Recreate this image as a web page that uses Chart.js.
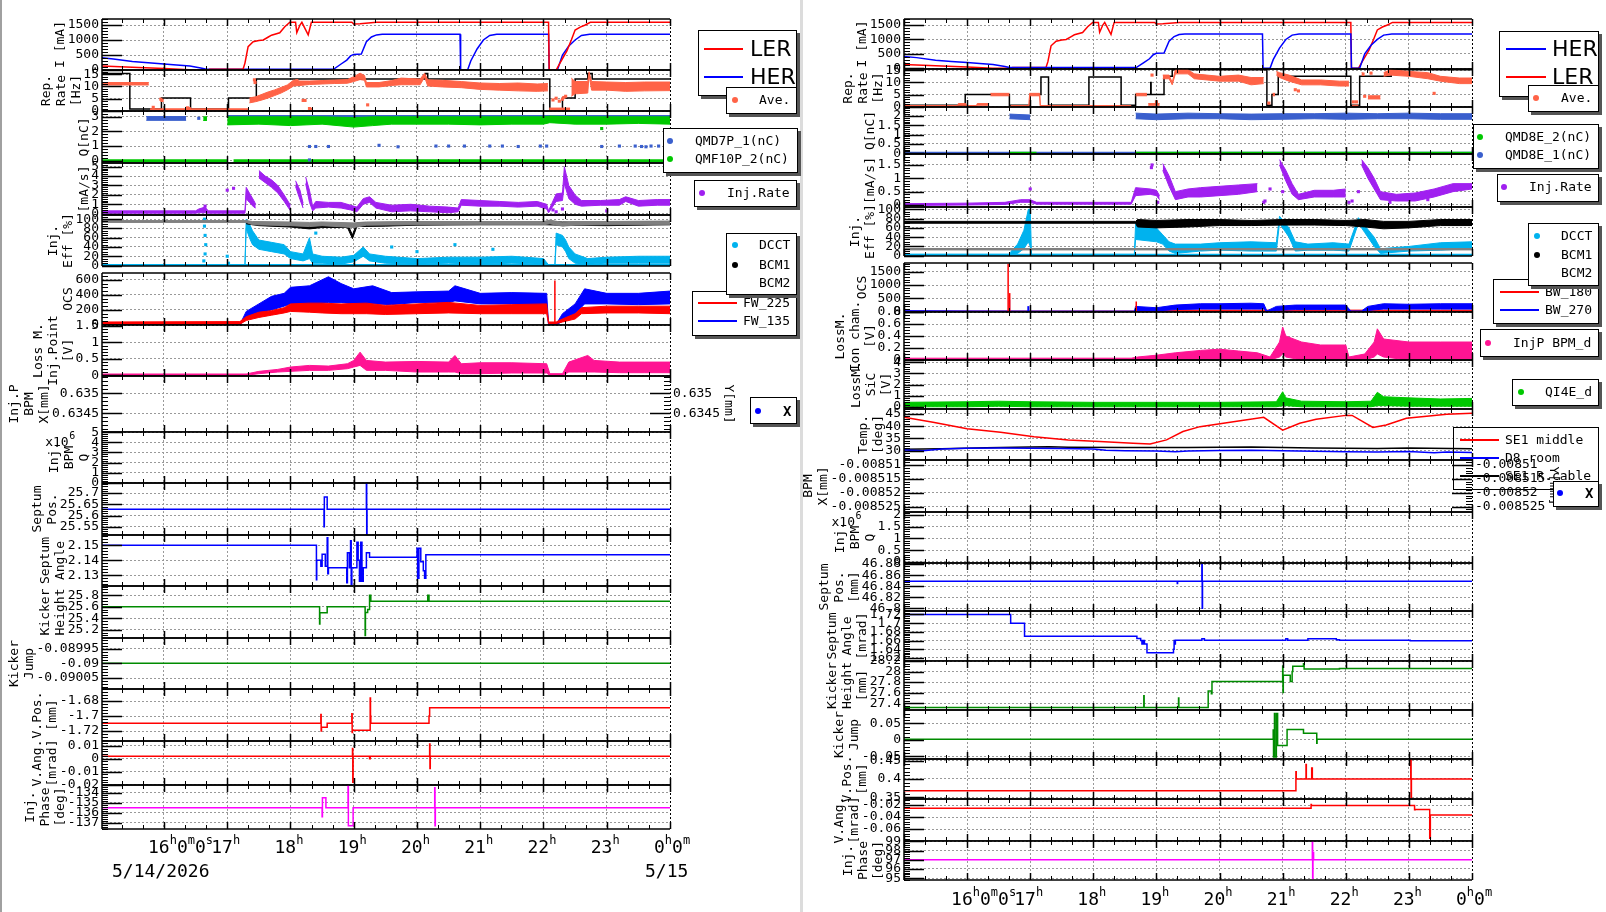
<!DOCTYPE html>
<html><head><meta charset="utf-8"><title>Injection monitor</title>
<script src="https://cdn.jsdelivr.net/npm/chart.js@4.4.1/dist/chart.umd.min.js"></script>
<style>
html,body{margin:0;padding:0;background:#fff;}
body{width:1606px;height:912px;position:relative;overflow:hidden;}
canvas{position:absolute;}
.lg{position:absolute;box-sizing:border-box;background:#fff;border:1.5px solid #000;box-shadow:3px 3px 0 #555;z-index:5;}
.lm,.ld,.lt{position:absolute;z-index:5;}
.lt{font:13px "DejaVu Sans Mono",monospace;color:#000;white-space:pre;line-height:16px;}
.sep{position:absolute;top:0;height:912px;z-index:4;}
</style></head><body>
<script>
// ---------- axis / tick text ----------
const HOURS=[16,17,18,19,20,21,22,23,24];
const XTICK_PARTS={16:[['16','h'],['0','m'],['0','s']],17:[['17','h']],18:[['18','h']],19:[['19','h']],20:[['20','h']],21:[['21','h']],22:[['22','h']],23:[['23','h']],24:[['0','h'],['0','m']]};
const DATE_LABELS=['5/14/2026','5/15'];

// ---------- colours ----------
const RED='#ff0000',BLUE='#0000ff',ORANGE='#ff6347',QGREEN='#00c800',QBLUE='#3a5fcd',PURPLE='#a020f0',
CYAN='#00b2ee',GRAY='#808080',BLACK='#000000',PINK='#ff1493',KGREEN='#008b00',MAG='#ff00ff',GRID='#999999';

// ---------- beam currents (hours, mA) ----------
const curLER=[[15.0,135],[15.5,92],[16.0,48],[16.4,5],[16.45,0],[16.7,0],[16.72,28],[17.25,28],[17.28,230],[17.33,780],[17.41,940],[17.5,980],[17.57,1000],[17.65,1100],[17.7,1160],[17.83,1240],[17.91,1440],[17.99,1590],[18.08,1590],[18.1,1250],[18.15,1500],[18.18,1590],[18.23,1380],[18.28,1170],[18.33,1590],[18.97,1590],[19.0,1535],[19.1,1545],[19.36,1590],[22.08,1590],[22.09,0],[22.2,0],[22.26,230],[22.37,640],[22.44,1000],[22.5,1330],[22.58,1430],[22.66,1500],[22.74,1590],[24.0,1590]];
const curHER=[[15.0,410],[15.2,370],[15.5,280],[15.75,240],[16.0,200],[16.2,170],[16.41,135],[16.6,60],[16.67,25],[18.68,25],[18.8,200],[18.89,330],[18.95,470],[19.0,520],[19.12,530],[19.2,940],[19.28,1100],[19.36,1170],[19.45,1190],[20.68,1190],[20.69,0],[20.8,0],[20.85,300],[20.95,700],[21.05,1000],[21.15,1150],[21.26,1190],[22.08,1190],[22.09,0],[22.22,0],[22.3,500],[22.4,800],[22.5,1000],[22.6,1150],[22.73,1190],[24.0,1190]];

// ---------- left column ----------
const repTargetL=[[15.0,15.3],[15.46,0.8],[15.96,5.3],[16.42,0.8],[17.02,5.3],[17.46,13],[20.13,15.3],[20.17,13],[22.1,0.8],[22.3,5.3],[22.5,13],[22.7,15.3],[22.77,13],[24,13]];
const aveL=[[15.0,10.6,11.6],[15.76,10.6,11.6],[15.77,null,null],[15.78,0.1,0.9],[17.33,0.1,0.9],[17.34,null,null],[17.35,3.3,5.3],[17.45,3.8,5.8],[17.55,4.5,6.8],[17.65,5.3,7.8],[17.75,6.3,8.6],[17.85,7.3,9.6],[17.95,8.6,10.6],[18.05,10.2,12.6],[18.15,10.4,12.2],[18.3,10.8,12.2],[18.5,11.0,12.4],[18.7,11.2,12.6],[18.9,11.3,12.8],[19.0,12.0,14.0],[19.1,12.8,15.4],[19.17,12.5,14.5],[19.2,9.8,11.6],[19.4,9.8,11.6],[19.6,10.4,12.4],[19.75,10.7,13.4],[20.05,10.7,13.0],[20.12,13.8,15.4],[20.17,10.2,12.7],[20.4,9.8,12.5],[20.7,9.5,12.0],[21.0,8.8,11.4],[21.3,8.5,11.2],[21.6,8.2,11.4],[21.9,8.0,11.0],[22.07,8.2,11.2],[22.08,null,null],[22.09,0.1,1.2],[22.42,0.1,1.2],[22.43,null,null],[22.44,6.0,13.4],[22.5,7.0,12.0],[22.7,7.3,12.0],[22.72,14.8,16.0],[22.76,8.5,12.0],[23.0,8.5,11.8],[23.3,8.0,11.6],[23.6,8.2,11.8],[24.0,8.3,11.8]];
const aveLpts=[[15.83,1.5],[15.95,4.8],[15.97,4.3],[16.37,1.3],[16.4,1.0],[17.43,12.7],[17.44,11.6],[18.1,12.4],[18.2,4.3],[18.23,4.3],[18.3,1.0],[18.32,0.7],[19.22,2.5],[22.15,4.5],[22.2,5.2],[22.25,4.0],[22.3,4.8],[22.35,6.0],[22.32,5.5]];
const qL1band=[[15.72,2.76,3.02],[16.35,2.76,3.02]];
const qL1top=[[17.0,3.03],[24,3.03]];
const qL2band=[[16.62,2.75,3.0],[16.68,2.75,3.0],[16.69,null,null],[17.0,2.45,3.0],[17.5,2.5,3.0],[18.0,2.4,3.0],[18.5,2.5,3.0],[19.0,2.3,2.95],[19.3,2.4,3.0],[19.6,2.5,3.0],[20.0,2.5,3.0],[20.5,2.5,3.0],[21.0,2.45,3.0],[21.5,2.5,3.0],[22.0,2.5,3.0],[22.1,2.6,3.05],[22.5,2.5,3.0],[23.0,2.5,3.0],[23.5,2.55,3.0],[24.0,2.5,3.0]];
const qL2zero=[[15.0,0],[17.0,0],[17.02,null],[17.1,0],[24,0]];
const qL1pts=[[16.55,2.9],[18.3,0.97],[18.4,0.97],[18.6,0.97],[18.3,0.05],[19.4,1.05],[19.7,0.95],[20.3,1.0],[20.5,1.0],[20.75,1.0],[21.15,1.0],[21.35,1.0],[21.6,0.97],[21.95,1.0],[22.05,1.0],[22.92,0.97],[23.2,1.0],[23.45,1.0],[23.55,0.97],[23.62,0.95],[23.7,1.0],[23.82,1.0]];
const qL2pts=[[22.92,2.2]];
const irL=[[15.0,0.05,0.3],[16.5,0.05,0.3],[16.55,0.1,0.5],[16.65,0.1,0.7],[16.7,0.05,0.3],[17.28,0.05,0.3],[17.3,1.6,2.8],[17.35,1.2,2.2],[17.42,0.7,1.4],[17.45,0.6,1.0],[17.48,null,null],[17.5,3.8,4.6],[17.6,3.3,4.0],[17.7,2.8,3.6],[17.8,2.2,3.0],[17.9,1.3,2.0],[18.0,0.3,0.9],[18.05,null,null],[18.08,2.9,3.5],[18.15,1.5,2.5],[18.2,0.6,1.1],[18.22,null,null],[18.24,3.2,3.9],[18.3,1.2,2.5],[18.35,0.3,0.8],[18.4,0.6,1.3],[18.6,0.7,1.2],[18.8,0.6,1.2],[18.95,0.4,0.9],[19.05,0.2,0.7],[19.15,1.0,1.6],[19.25,1.2,1.8],[19.35,0.6,1.2],[19.6,0.2,0.9],[19.9,0.3,1.0],[20.2,0.2,0.8],[20.5,0.1,0.7],[20.65,0.2,0.6],[20.7,0.9,1.5],[21.0,0.8,1.4],[21.3,0.8,1.3],[21.6,0.7,1.2],[21.9,0.8,1.3],[22.05,0.5,1.0],[22.08,0.1,0.3],[22.2,1.3,2.1],[22.3,1.4,2.2],[22.33,3.2,5.0],[22.4,1.6,3.0],[22.5,1.0,2.0],[22.6,0.8,1.4],[22.9,0.9,1.4],[23.2,0.9,1.5],[23.3,1.3,1.8],[23.5,0.8,1.4],[23.8,0.9,1.5],[24.0,0.9,1.5]];
const irLpts=[[17.0,2.5],[17.1,2.7],[16.65,0.8],[22.2,0.2],[22.15,0.4],[23.0,0.3],[22.3,0.5]];
const dcctL=[[15.0,-1,1.5],[17.28,-1,1.5],[17.3,80,100],[17.35,60,90],[17.4,45,75],[17.5,35,55],[17.7,30,50],[17.9,25,45],[18.0,15,30],[18.2,10,25],[18.3,15,60],[18.35,5,25],[18.5,5,20],[18.8,3,18],[19.0,8,22],[19.15,20,40],[19.25,10,25],[19.5,5,20],[20,3,15],[20.5,5,18],[21,3,18],[21.5,5,20],[22.0,3,15],[22.08,-1,1.5],[22.18,-1,1.5],[22.2,45,70],[22.3,40,65],[22.35,30,55],[22.4,15,40],[22.5,5,25],[22.7,3,15],[23,5,18],[23.5,5,20],[24,5,20]];
const dcctLzero=[[15.0,0.3],[24,0.3]];
const dcctLpts=[[16.64,100],[16.64,85],[16.65,65],[16.66,45],[16.65,25],[16.63,10],[17.0,20],[17.02,5],[18.4,70],[19.6,40],[20.0,30],[20.6,45],[21.2,35]];
const bcm1L=[[17.3,90,94],[17.5,86,92],[18.0,83,91],[18.3,79,88],[18.5,82,90],[18.9,82,90],[18.98,58,66],[19.05,84,92],[19.5,85,93],[20,87,94],[21,88,95],[22,88,95],[22.3,87,94],[23,86,93],[24,88,95]];
const bcm2L=[[15.0,93,97],[17.3,93,97],[17.4,88,95],[18.0,86,94],[18.3,84,93],[18.5,86,94],[19.0,82,92],[19.2,87,94],[20,88,95],[21,88,95],[22,88,95],[22.1,90,98],[22.3,85,93],[22.5,87,95],[23,88,95],[24,88,96]];
const fw225L=[[15.0,10,40],[17.2,10,45],[17.3,60,110],[17.5,100,170],[17.7,130,190],[17.9,160,230],[18.0,180,280],[18.3,170,290],[18.5,160,290],[18.8,150,280],[19.2,150,290],[19.5,140,260],[20,150,280],[20.5,160,300],[21,150,260],[21.5,150,270],[22.05,150,280],[22.08,20,40],[22.2,20,40],[22.3,40,80],[22.5,80,150],[22.6,150,230],[23,160,250],[23.5,160,250],[24,150,250]];
const fw225Lspike=[[22.18,20],[22.18,590]];
const fw135L=[[15.0,0,5],[17.2,0,5],[17.3,100,180],[17.5,150,280],[17.7,200,380],[17.9,250,420],[18.0,280,500],[18.3,260,520],[18.6,300,640],[18.8,300,550],[19.0,280,480],[19.3,280,520],[19.6,270,430],[20,300,440],[20.5,300,450],[20.6,320,520],[21,280,420],[21.5,280,430],[22.05,260,420],[22.08,0,10],[22.2,0,10],[22.3,50,150],[22.5,150,280],[22.65,280,480],[23,280,420],[23.5,270,420],[24,280,450]];
const lossL=[[15.0,0,0.04],[17.3,0,0.04],[17.5,0.05,0.12],[17.8,0.1,0.18],[18.0,0.12,0.25],[18.3,0.15,0.3],[18.6,0.15,0.28],[18.9,0.2,0.35],[19.0,0.25,0.45],[19.1,0.3,0.7],[19.2,0.15,0.45],[19.5,0.15,0.4],[20,0.1,0.42],[20.5,0.1,0.4],[20.6,0.1,0.6],[20.7,0.05,0.35],[21,0.05,0.38],[21.5,0.07,0.38],[22.05,0.07,0.35],[22.1,0,0.05],[22.3,0,0.05],[22.4,0.1,0.4],[22.7,0.1,0.6],[22.8,0.1,0.45],[23.2,0.08,0.4],[23.6,0.08,0.4],[24,0.08,0.4]];
const septPosL=[[15.0,25.628],[18.53,25.55],[18.535,25.682],[18.58,25.628],[19.2,25.745],[19.205,25.515],[19.21,25.628],[24,25.628]];
const septAngL=[[15.0,2.15],[18.41,2.127],[18.415,2.14],[18.48,2.136],[18.5,2.144],[18.55,2.136],[18.58,2.155],[18.59,2.131],[18.6,2.135],[18.89,2.125],[18.9,2.145],[18.93,2.135],[18.95,2.153],[18.96,2.124],[18.97,2.135],[19.05,2.152],[19.07,2.14],[19.09,2.126],[19.11,2.152],[19.13,2.126],[19.15,2.135],[19.2,2.145],[19.25,2.142],[20.0,2.148],[20.01,2.128],[20.03,2.148],[20.06,2.139],[20.1,2.133],[20.12,2.128],[20.14,2.1437],[24,2.1437]];
const kickHL=[[15.0,25.6],[18.46,25.3],[18.465,25.495],[18.58,25.6],[19.18,25.1],[19.185,25.5],[19.22,25.55],[19.25,25.8],[19.27,25.695],[20.17,25.8],[20.19,25.695],[24,25.695]];
const kickJL=[[15.0,-0.09],[24,-0.09]];
const vPosL=[[15.0,-1.7098],[18.48,-1.698],[18.485,-1.72],[18.49,-1.715],[18.58,-1.7098],[18.97,-1.697],[18.975,-1.722],[18.98,-1.719],[19.26,-1.676],[19.265,-1.7],[19.27,-1.7098],[20.19,-1.7],[20.2,-1.689],[24,-1.689]];
const vAngL=[[15.0,0.002],[18.98,0.008],[18.985,-0.018],[18.99,0.002],[19.25,0.0],[19.26,0.002],[20.2,0.0115],[20.205,-0.0075],[20.21,0.002],[24,0.002]];
const phaseL=[[15.0,-135.5],[18.5,-136.4],[18.505,-134.5],[18.56,-135.5],[18.91,-133.3],[18.915,-137.3],[18.99,-135.5],[20.28,-133.5],[20.285,-137.3],[20.29,-135.5],[24,-135.5]];

// ---------- right column ----------
const repTargetR=[[15.0,0.65],[15.97,5],[16.67,0.65],[17.0,5],[17.17,12.2],[17.29,0.65],[17.93,12.2],[18.44,0.65],[18.67,5],[18.91,10],[18.915,5],[19.12,12.5],[19.25,15.2],[20.75,0.65],[20.83,5],[20.93,12.5],[22.08,0.65],[22.22,12.5],[22.72,15.2],[24,15.2]];
const aveR=[[15.0,-0.1,0.5],[15.85,-0.1,0.5],[15.86,0.6,1.3],[15.98,0.6,1.3],[15.99,-0.1,0.5],[16.15,-0.1,0.5],[16.16,0.6,1.3],[16.35,0.6,1.3],[16.36,null,null],[16.37,4.5,5.5],[16.67,4.5,5.5],[16.68,null,null],[16.69,-0.1,0.5],[16.98,-0.1,0.5],[16.99,4.5,5.5],[17.15,4.5,5.5],[17.16,-0.1,0.5],[18.6,-0.1,0.5],[18.61,null,null],[18.67,4.5,5.5],[18.85,4.5,5.5],[18.86,null,null],[18.87,0.6,1.3],[19.05,0.6,1.3],[19.06,null,null],[19.1,11.5,13],[19.2,11.5,13],[19.25,9,10],[19.3,13.5,15.2],[19.5,13.5,15.2],[19.6,11.5,13.5],[19.8,11,13],[20.0,10.5,12.5],[20.3,10.5,13],[20.5,9,12],[20.7,9.5,12],[20.74,null,null],[20.84,4.5,5.5],[20.88,4.5,5.5],[20.89,null,null],[20.9,13,14.5],[20.95,12,14],[21.1,10.5,13],[21.3,9,11],[21.6,9,11],[21.9,8.5,10.5],[22.05,8.5,10.5],[22.06,null,null],[22.1,-0.1,0.6],[22.2,-0.1,0.6],[22.21,null,null],[22.25,13,14],[22.3,12.8,13.8],[22.31,null,null],[22.35,3.2,4.5],[22.55,3.2,4.5],[22.56,null,null],[22.6,12.5,14],[22.7,13,15.2],[23.0,12.5,14.5],[23.3,11.5,14.0],[23.5,10.5,12.5],[23.8,9.5,11.8],[24,9.5,11.8]];
const aveRpts=[[18.93,13],[19.0,2],[20.78,1.5],[21.2,7],[21.25,6.5],[22.12,2],[22.17,2],[22.4,13.8],[23.4,5.5],[22.3,4.3]];
const qR1zero=[[15.0,0],[24,0]];
const qR2zero=[[16.67,0],[17.1,0],[17.11,null],[18.67,0],[24,0]];
const qR1band=[[16.67,1.85,2.1],[17.0,1.8,2.05],[17.02,null,null],[18.67,1.85,2.15],[19.0,1.8,2.1],[19.5,1.85,2.15],[20,1.85,2.12],[20.5,1.8,2.1],[21,1.82,2.12],[21.5,1.85,2.12],[22,1.82,2.15],[22.5,1.85,2.12],[23,1.85,2.15],[23.5,1.82,2.12],[24,1.82,2.12]];
const irR=[[15,-0.02,0.05],[16.0,0.0,0.07],[16.6,0.02,0.1],[16.85,0.1,0.2],[17.0,0.1,0.2],[17.1,0.03,0.1],[18.6,0.03,0.1],[18.67,0.35,0.65],[18.9,0.4,0.6],[19.0,0.35,0.55],[19.05,0.2,0.35],[19.08,null,null],[19.1,1.3,1.55],[19.2,0.7,1.1],[19.3,0.2,0.5],[19.5,0.3,0.6],[19.7,0.3,0.65],[20.0,0.35,0.7],[20.3,0.4,0.75],[20.6,0.5,0.8],[20.62,null,null],[20.95,1.5,1.7],[21.05,0.9,1.3],[21.15,0.4,0.8],[21.25,0.2,0.4],[21.5,0.3,0.55],[21.8,0.3,0.55],[22.0,0.3,0.6],[22.02,null,null],[22.25,1.5,1.7],[22.35,1.0,1.4],[22.45,0.6,1.0],[22.55,0.2,0.5],[22.8,0.15,0.4],[23.1,0.15,0.45],[23.4,0.3,0.6],[23.7,0.5,0.8],[24,0.6,0.8]];
const irRpts=[[17.0,0.6],[18.93,1.5],[18.92,1.4],[19.02,0.1],[20.7,0.1],[20.72,0.15],[20.8,0.6],[21.0,0.5],[22.05,0.1],[22.1,0.15],[22.2,0.5],[22.7,0.1],[23.3,0.2]];
const dcctR=[[15,-0.6,3],[16.68,-0.6,3],[16.7,2,10],[16.8,5,25],[16.9,15,55],[16.97,30,100],[17.0,20,100],[17.02,-0.6,3],[18.65,-0.6,3],[18.67,35,70],[19.0,30,60],[19.1,25,45],[19.2,10,30],[19.3,5,25],[19.7,10,25],[20.0,12,28],[20.5,10,30],[20.9,10,28],[20.95,70,85],[21.1,40,60],[21.2,10,30],[21.4,12,25],[21.8,12,28],[22.05,10,25],[22.2,70,82],[22.3,50,65],[22.45,20,40],[22.55,5,15],[23.0,10,20],[23.5,12,28],[24,15,30]];
const dcctRzero=[[15,1],[24,1]];
const bcm1R=[[15,70,74],[18.67,70,74],[18.7,62,78],[19,60,76],[19.5,62,78],[20,65,78],[20.5,65,76],[21,66,78],[21.5,66,78],[22,65,76],[22.3,62,78],[22.6,58,74],[23,60,74],[23.5,65,78],[24,65,78]];
const bcm2R=[[15,12.5,15.5],[24,12.5,15.5]];
const bw180R=[[15,0,25],[18.67,0,25],[18.7,10,60],[24,10,60]];
const bw270R=[[15,0,40],[16.0,0,30],[17.0,0,25],[18.65,0,25],[18.67,50,200],[19.0,30,150],[19.3,80,250],[19.7,100,300],[20.0,100,300],[20.5,100,320],[20.7,100,300],[20.75,5,30],[20.9,50,200],[21.2,80,250],[22.0,80,250],[22.08,5,30],[22.25,5,30],[22.35,50,200],[22.6,100,300],[23,100,280],[23.5,100,300],[24,100,300]];
const bw180Spike1=[[16.65,0],[16.65,1800]];
const bw180Spike2=[[16.675,0],[16.675,700]];
const bw180Spike3=[[18.68,0],[18.68,380]];
const bw270Spike1=[[16.67,0],[16.67,450]];
const bw270Spike2=[[16.97,0],[16.97,210]];
const ionR=[[15,0,0.03],[18.6,0,0.03],[18.7,0,0.05],[19.0,0.0,0.08],[19.3,0,0.12],[19.7,0,0.16],[20.0,0,0.18],[20.3,0,0.15],[20.6,0,0.12],[20.8,0.0,0.05],[20.95,0.05,0.3],[21.0,0.1,0.55],[21.05,0.05,0.4],[21.3,0.0,0.3],[21.6,0,0.25],[22.0,0,0.25],[22.05,0,0.05],[22.3,0,0.1],[22.45,0.05,0.3],[22.5,0.1,0.52],[22.6,0.05,0.35],[23.0,0.0,0.3],[23.5,0,0.3],[24,0,0.3]];
const sicR=[[15,0,0.4],[16.0,0,0.45],[16.5,0.05,0.5],[17.0,0,0.45],[18.0,0,0.4],[19.0,0,0.4],[20.0,0,0.4],[20.9,0,0.45],[21.0,0.1,1.35],[21.05,0.1,0.8],[21.3,0,0.5],[22.0,0,0.45],[22.4,0,0.5],[22.5,0.1,1.3],[22.6,0.1,0.9],[23.0,0.05,0.8],[23.5,0.05,0.7],[24,0.05,0.75]];
const tSE1=[[15.0,43.6],[15.46,41.6],[16.0,38.9],[16.53,37.5],[17.06,35.7],[17.6,34.4],[18.1,33.7],[18.63,33.0],[18.9,32.7],[19.16,34.4],[19.42,37.8],[19.69,39.8],[20.22,41.8],[20.7,43.6],[21.0,38.4],[21.27,41.2],[21.53,42.8],[22.0,44.4],[22.1,44.4],[22.43,39.5],[22.64,40.5],[22.96,43.2],[23.6,44.9],[24,45.3]];
const tCable=[[15,30.6],[15.6,30.8],[16.3,31.2],[17.0,31.5],[17.3,31.6],[17.6,31.4],[18.5,31.3],[19.5,31.3],[20.5,31.5],[21.5,31.1],[22.5,30.9],[23.0,31.1],[24,30.8]];
const tD8=[[15,30.3],[15.3,30.0],[15.6,30.7],[16.0,31.0],[16.5,31.1],[17.0,31.0],[17.5,30.9],[18.0,30.7],[18.2,30.2],[18.5,30.0],[19.0,29.9],[19.3,29.6],[19.5,29.9],[20.0,30.1],[20.5,30.2],[21.0,30.0],[21.5,29.8],[22.0,29.6],[22.5,29.5],[23.0,29.7],[23.4,29.2],[23.6,29.5],[24,29.3]];
const septPosR=[[15,46.849],[19.33,46.845],[19.335,46.849],[19.72,46.879],[19.725,46.8],[19.73,46.849],[24,46.849]];
const septAngR=[[15,1.72],[16.69,1.70],[16.91,1.670],[18.69,1.665],[18.75,1.66],[18.77,1.652],[18.79,1.66],[18.81,1.652],[18.85,1.632],[19.27,1.64],[19.28,1.66],[19.29,1.652],[19.3,1.661],[19.72,1.664],[19.76,1.661],[21.05,1.664],[21.08,1.661],[21.4,1.664],[21.85,1.662],[21.9,1.661],[23.02,1.6595],[24,1.6595]];
const kickHR=[[15,27.316],[18.8,27.54],[18.805,27.316],[19.35,27.5],[19.355,27.316],[19.82,27.63],[19.87,27.58],[19.88,27.81],[21.0,28.1],[21.005,27.6],[21.01,27.93],[21.12,27.81],[21.15,28.0],[21.16,28.1],[21.33,28.15],[21.34,28.05],[21.9,28.06],[24,28.06]];
const kickJR=[[15,0.002],[20.85,0.03],[20.855,-0.052],[20.86,0.002],[20.87,0.08],[20.875,-0.052],[20.9,0.08],[20.92,-0.017],[21.07,0.032],[21.33,0.02],[21.54,-0.01],[21.545,0.002],[24,0.002]];
const vPosR=[[15,0.368],[21.21,0.42],[21.215,0.40],[21.37,0.44],[21.375,0.40],[21.46,0.43],[21.47,0.40],[23.03,0.452],[23.035,0.35],[23.04,0.40],[24,0.40]];
const vAngR=[[15,-0.0255],[21.45,-0.019],[21.455,-0.021],[23.09,-0.028],[23.1,-0.0275],[23.33,-0.0755],[23.34,-0.0367],[24,-0.0367]];
const phaseR=[[15,97],[21.47,99],[21.475,95],[21.48,97.8],[21.49,97],[24,97]];

// ---------- helpers ----------
const FONT='"DejaVu Sans Mono", monospace';
function ln(arr,c,w=1.5,step=true){return {type:'line',data:arr.map(p=>({x:p[0],y:p[1]})),borderColor:c,backgroundColor:c,borderWidth:w,pointRadius:0,stepped:step,fill:false,tension:0};}
function band(arr,c){return [
 {type:'line',data:arr.map(p=>({x:p[0],y:p[1]})),borderColor:c,borderWidth:1,pointRadius:0,fill:false,tension:0},
 {type:'line',data:arr.map(p=>({x:p[0],y:p[2]})),borderColor:c,backgroundColor:c,borderWidth:1,pointRadius:0,fill:'-1',tension:0}];}
function dots(arr,c,r=2.2){return {type:'scatter',data:arr.map(p=>({x:p[0],y:p[1]})),showLine:false,pointStyle:'rect',pointRadius:r,pointBackgroundColor:c,pointBorderColor:c,pointBorderWidth:0,borderColor:c,backgroundColor:c};}

function drawDeco(chart,p){
 const ctx=chart.ctx,a=chart.chartArea,xs=chart.scales.x,ys=chart.scales.y;
 ctx.save();ctx.strokeStyle='#000';ctx.fillStyle='#000';
 const seg=(x1,y1,x2,y2)=>{ctx.beginPath();ctx.moveTo(x1,y1);ctx.lineTo(x2,y2);ctx.stroke();};
 for(let k=Math.ceil(xs.min*3-1e-6);k<=Math.floor(xs.max*3+1e-6);k++){
  const px=Math.round(xs.getPixelForValue(k/3))+0.5,maj=k%3===0,L=maj?7:4;
  ctx.lineWidth=maj?1.5:1;seg(px,a.bottom,px,a.bottom-L);seg(px,a.top,px,a.top+L);}
 ctx.lineWidth=1;
 const st=p.mn;
 for(let k=Math.ceil(ys.min/st-1e-6);k*st<=ys.max+st*1e-6;k++){
  const py=Math.round(ys.getPixelForValue(k*st))+0.5;seg(a.left,py,a.left+6,py);if(p.ra)seg(a.right,py,a.right-6,py);}
 ctx.lineWidth=1.5;
 for(const v of p.yt){const py=Math.round(ys.getPixelForValue(v))+0.5;if(py<a.top-1||py>a.bottom+1)continue;seg(a.left,py,a.left+20,py);if(p.ra)seg(a.right,py,a.right-20,py);}
 seg(a.left,a.top,a.right,a.top);seg(a.left,a.bottom,a.right,a.bottom);seg(a.left,a.top,a.left,a.bottom);
 ctx.setLineDash([2,2]);ctx.lineWidth=1;seg(a.right+0.5,a.top,a.right+0.5,a.bottom);ctx.setLineDash([]);
 ctx.font='13px '+FONT;
 let mw=0;for(const v of p.yt)mw=Math.max(mw,ctx.measureText(String(v)).width);
 const labL=a.left-3-mw,n=p.ti.length,cy=(a.top+a.bottom)/2;
 p.ti.forEach((s,i)=>{const cx=labL-7-(n-1-i)*15;ctx.save();ctx.translate(cx,cy);ctx.rotate(-Math.PI/2);ctx.textAlign='center';ctx.textBaseline='middle';ctx.fillText(s,0,0);ctx.restore();});
 if(p.sci){ctx.textAlign='left';ctx.textBaseline='alphabetic';ctx.font='13px '+FONT;ctx.fillText('x10',labL-46,a.top+14);ctx.font='10px '+FONT;ctx.fillText('6',labL-46+24,a.top+7);}
 if(p.ra){ctx.font='13px '+FONT;ctx.textAlign='left';ctx.textBaseline='middle';let rw=0;
  for(const v of p.yt){ctx.fillText(String(v),a.right+3,ys.getPixelForValue(v));rw=Math.max(rw,ctx.measureText(String(v)).width);}
  ctx.save();ctx.translate(a.right+3+rw+8,cy);ctx.rotate(Math.PI/2);ctx.textAlign='center';ctx.fillText('Y[mm]',0,0);ctx.restore();}
 if(p.xl){ctx.textAlign='left';ctx.textBaseline='alphabetic';
  for(const h of HOURS){let x=xs.getPixelForValue(h)-16;
   for(const [d,s] of XTICK_PARTS[h]){ctx.font='18px '+FONT;ctx.fillText(d,x,a.bottom+p.xl);x+=ctx.measureText(d).width;ctx.font='12px '+FONT;ctx.fillText(s,x,a.bottom+p.xl-9);x+=ctx.measureText(s).width;}}
  if(p.date){ctx.font='18px '+FONT;ctx.fillText(DATE_LABELS[0],a.left+10,a.bottom+p.xl+24);ctx.fillText(DATE_LABELS[1],xs.getPixelForValue(24)-25,a.bottom+p.xl+24);}}
 ctx.restore();
}

function mk(p){
 const L=p.c==='L'?102:904;
 const padT=12,padB=p.xl?(p.date?62:34):12,padR=p.ra?150:(p.xl?60:4);
 const W=102+568+padR,H=(p.b-p.t)+padT+padB;
 const cv=document.createElement('canvas');cv.width=W;cv.height=H;
 cv.style.left=(L-102)+'px';cv.style.top=(p.t-padT)+'px';cv.style.width=W+'px';cv.style.height=H+'px';
 document.body.appendChild(cv);
 const ds=p.ds?p.ds():[];const n=ds.length;ds.forEach((d,i)=>{d.order=n-i;});
 new Chart(cv.getContext('2d'),{type:'line',data:{datasets:ds},
  plugins:[{id:'deco',afterDraw(chart){drawDeco(chart,p);}}],
  options:{responsive:false,animation:false,devicePixelRatio:1,events:[],
   layout:{padding:{top:padT,bottom:padB,left:0,right:padR}},
   plugins:{legend:{display:false},tooltip:{enabled:false}},
   scales:{
    x:{type:'linear',min:p.c==='L'?15.02:15.0,max:24,afterFit:s=>{s.height=0;},afterBuildTicks:s=>{s.ticks=HOURS.map(v=>({value:v}));},ticks:{display:false},grid:{color:GRID,drawTicks:false},border:{display:false,dash:[2,2]}},
    y:{type:'linear',min:p.min,max:p.max,afterFit:s=>{s.width=102;},afterBuildTicks:s=>{s.ticks=p.yt.map(v=>({value:v}));},
       ticks:{autoSkip:false,padding:3,color:'#000',font:{family:'DejaVu Sans Mono',size:13},callback:v=>String(v)},grid:{color:GRID,drawTicks:false},border:{display:false,dash:[2,2]}}
   }}});
}

const tkI=[0,500,1000,1500],tkRep=[0,5,10,15],tkEff=[0,20,40,60,80,100];
const PANELS=[
 {c:'L',t:19,b:70,min:0,max:1700,yt:tkI,mn:100,ti:['I [mA]'],ds:()=>[ln(curHER,BLUE,1.5,false),ln(curLER,RED,1.5,false)]},
 {c:'L',t:70,b:111,min:0,max:16.7,yt:tkRep,mn:1,ti:['Rep.','Rate','[Hz]'],ds:()=>[ln(repTargetL,BLACK),...band(aveL,ORANGE),dots(aveLpts,ORANGE)]},
 {c:'L',t:111,b:163,min:-0.16,max:3.4,yt:[0,1,2,3],mn:0.2,ti:['Q[nC]'],ds:()=>[...band(qL1band,QBLUE),ln(qL1top,QBLUE,3,false),...band(qL2band,QGREEN),ln(qL2zero,QGREEN,3,false),dots(qL1pts,QBLUE),dots(qL2pts,QGREEN)]},
 {c:'L',t:163,b:215,min:-0.14,max:5.39,yt:[0,1,2,3,4,5],mn:0.2,ti:['[mA/s]'],ds:()=>[...band(irL,PURPLE),dots(irLpts,PURPLE)]},
 {c:'L',t:215,b:266,min:-1,max:109,yt:tkEff,mn:5,ti:['Inj.','Eff [%]'],ds:()=>[ln(dcctLzero,CYAN,3,false),...band(dcctL,CYAN),dots(dcctLpts,CYAN),...band(bcm1L,BLACK),...band(bcm2L,GRAY)]},
 {c:'L',t:273,b:325,min:0,max:690,yt:[0,200,400,600],mn:50,ti:['OCS'],ds:()=>[...band(fw135L,BLUE),...band(fw225L,RED),ln(fw225Lspike,RED,1.5,false)]},
 {c:'L',t:325,b:376,min:-0.02,max:1.52,yt:[0,0.5,1,1.5],mn:0.1,ti:['Loss M.','Inj.Point','[V]'],ds:()=>[...band(lossL,PINK)]},
 {c:'L',t:376,b:432,min:0.63403,max:0.63543,yt:[0.6345,0.635],mn:0.0001,ti:['Inj.P','BPM','X[mm]'],ra:1},
 {c:'L',t:432,b:483,min:-0.02,max:5.02,yt:[0,1,2,3,4,5],mn:0.2,ti:['Inj.','BPM','Q'],sci:1},
 {c:'L',t:483,b:535,min:25.513,max:25.745,yt:[25.55,25.6,25.65,25.7],mn:0.01,ti:['Septum','Pos.'],ds:()=>[ln(septPosL,BLUE)]},
 {c:'L',t:535,b:586,min:2.1229,max:2.1569,yt:[2.13,2.14,2.15],mn:0.002,ti:['Septum','Angle'],ds:()=>[ln(septAngL,BLUE)]},
 {c:'L',t:586,b:638,min:25.055,max:25.96,yt:[25.2,25.4,25.6,25.8],mn:0.05,ti:['Kicker','Height'],ds:()=>[ln(kickHL,KGREEN)]},
 {c:'L',t:638,b:689,min:-0.0900875,max:-0.0899135,yt:[-0.09005,-0.09,-0.08995],mn:0.00001,ti:['Kicker','Jump'],ds:()=>[ln(kickJL,KGREEN)]},
 {c:'L',t:689,b:741,min:-1.7333,max:-1.664,yt:[-1.72,-1.7,-1.68],mn:0.004,ti:['V.Pos.','[mm]'],ds:()=>[ln(vPosL,RED)]},
 {c:'L',t:741,b:785,min:-0.0202,max:0.0138,yt:[-0.02,-0.01,0,0.01],mn:0.002,ti:['V.Ang.','[mrad]'],ds:()=>[ln(vAngL,RED)]},
 {c:'L',t:785,b:829,min:-137.63,max:-133.23,yt:[-137,-136,-135,-134],mn:0.2,ti:['Inj.','Phase','[deg]'],ds:()=>[ln(phaseL,MAG)],xl:24,date:1},

 {c:'R',t:19,b:69,min:-24,max:1708,yt:tkI,mn:100,ti:['I [mA]'],ds:()=>[ln(curLER,RED,1.5,false),ln(curHER,BLUE,1.5,false)]},
 {c:'R',t:69,b:107,min:-0.1,max:15.5,yt:tkRep,mn:1,ti:['Rep.','Rate','[Hz]'],ds:()=>[ln(repTargetR,BLACK),...band(aveR,ORANGE),dots(aveRpts,ORANGE)]},
 {c:'R',t:107,b:154,min:-0.04,max:2.48,yt:[0,0.5,1,1.5,2],mn:0.1,ti:['Q[nC]'],ds:()=>[ln(qR1zero,QBLUE,3,false),ln(qR2zero,QGREEN,3,false),...band(qR1band,QBLUE)]},
 {c:'R',t:154,b:207,min:-0.075,max:1.91,yt:[0,0.5,1,1.5],mn:0.1,ti:['[mA/s]'],ds:()=>[...band(irR,PURPLE),dots(irRpts,PURPLE)]},
 {c:'R',t:207,b:256,min:-0.6,max:105,yt:tkEff,mn:5,ti:['Inj.','Eff [%]'],ds:()=>[ln(dcctRzero,CYAN,3,false),...band(dcctR,CYAN),...band(bcm1R,BLACK),...band(bcm2R,GRAY)]},
 {c:'R',t:263,b:312,min:-10,max:1830,yt:[0,500,1000,1500],mn:100,ti:['OCS'],ds:()=>[...band(bw180R,RED),...band(bw270R,BLUE),ln(bw270Spike1,BLUE,1.5,false),ln(bw270Spike2,BLUE,2,false),ln(bw180Spike1,RED,1.5,false),ln(bw180Spike2,RED,1.5,false),ln(bw180Spike3,RED,1.5,false)]},
 {c:'R',t:312,b:360,min:0,max:0.8,yt:[0,0.2,0.4,0.6,0.8],mn:0.05,ti:['LossM.','Ion cham.','[V]'],ds:()=>[...band(ionR,PINK)]},
 {c:'R',t:360,b:409,min:-0.2,max:4.2,yt:[0,1,2,3,4],mn:0.2,ti:['LossM.','SiC','[V]'],ds:()=>[...band(sicR,QGREEN)]},
 {c:'R',t:409,b:460,min:26.2,max:47,yt:[30,35,40,45],mn:1,ti:['Temp.','[deg]'],ds:()=>[ln(tCable,BLACK,1.5,false),ln(tD8,BLUE,1.5,false),ln(tSE1,RED,1.5,false)]},
 {c:'R',t:460,b:512,min:-0.0085269,max:-0.0085082,yt:[-0.008525,-0.00852,-0.008515,-0.00851],mn:0.000001,ti:['Inj.P','BPM','X[mm]'],ra:1},
 {c:'R',t:512,b:563,min:-0.05,max:2.13,yt:[0,0.5,1,1.5,2],mn:0.1,ti:['Inj.','BPM','Q'],sci:1},
 {c:'R',t:563,b:611,min:46.795,max:46.882,yt:[46.8,46.82,46.84,46.86,46.88],mn:0.004,ti:['Septum','Pos.','[mm]'],ds:()=>[ln(septPosR,BLUE)]},
 {c:'R',t:611,b:661,min:1.613,max:1.728,yt:[1.62,1.64,1.66,1.68,1.7,1.72],mn:0.004,ti:['Septum','Angle','[mrad]'],ds:()=>[ln(septAngR,BLUE)]},
 {c:'R',t:661,b:710,min:27.27,max:28.2,yt:[27.4,27.6,27.8,28,28.2],mn:0.05,ti:['Kicker','Height','[mm]'],ds:()=>[ln(kickHR,KGREEN)]},
 {c:'R',t:710,b:759,min:-0.058,max:0.091,yt:[-0.05,0,0.05],mn:0.01,ti:['Kicker','Jump'],ds:()=>[ln(kickJR,KGREEN)]},
 {c:'R',t:759,b:799,min:0.345,max:0.455,yt:[0.35,0.4,0.45],mn:0.01,ti:['V.Pos.','[mm]'],ds:()=>[ln(vPosR,RED)]},
 {c:'R',t:799,b:841,min:-0.08,max:-0.01,yt:[-0.06,-0.04,-0.02],mn:0.004,ti:['V.Ang.','[mrad]'],ds:()=>[ln(vAngR,RED)]},
 {c:'R',t:841,b:880,min:94.8,max:99.05,yt:[95,96,97,98,99],mn:0.2,ti:['Inj.','Phase','[deg]'],ds:()=>[ln(phaseR,MAG)],xl:25}
];

// legends: box [left,top,w,h]; items [kind,color,y,x0,x1,textX,text,style]
const LEGENDS=[
 {b:[698,30,99,66],it:[['L',RED,49,704,743,750,'LER',1],['L',BLUE,77,704,743,750,'HER',1]]},
 {b:[726,87,71,27],it:[['D',ORANGE,100,735,0,759,'Ave.']]},
 {b:[663,128,135,45],it:[['D',QBLUE,141,670,0,695,'QMD7P_1(nC)'],['D',QGREEN,159,670,0,695,'QMF10P_2(nC)']]},
 {b:[694,180,103,27],it:[['D',PURPLE,193,702,0,727,'Inj.Rate']]},
 {b:[692,291,105,45],it:[['L',RED,303,698,737,743,'FW_225'],['L',BLUE,321,698,737,743,'FW_135']]},
 {b:[726,233,71,62],it:[['D',CYAN,245,735,0,759,'DCCT'],['D',BLACK,265,735,0,759,'BCM1'],['N','',283,0,0,759,'BCM2']]},
 {b:[750,397,47,27],it:[['D',BLUE,411,758,0,783,'X',2]]},
 {b:[1499,31,100,66],it:[['L',BLUE,49,1506,1546,1552,'HER',1],['L',RED,77,1506,1546,1552,'LER',1]]},
 {b:[1528,85,71,27],it:[['D',ORANGE,98,1536,0,1561,'Ave.']]},
 {b:[1473,124,126,45],it:[['D',QGREEN,137,1480,0,1505,'QMD8E_2(nC)'],['D',QBLUE,155,1480,0,1505,'QMD8E_1(nC)']]},
 {b:[1497,174,102,28],it:[['D',PURPLE,187,1504,0,1529,'Inj.Rate']]},
 {b:[1493,279,106,45],it:[['L',RED,292,1500,1539,1545,'BW_180'],['L',BLUE,310,1500,1539,1545,'BW_270']]},
 {b:[1528,223,71,63],it:[['D',CYAN,236,1537,0,1561,'DCCT'],['D',BLACK,255,1537,0,1561,'BCM1'],['N','',273,0,0,1561,'BCM2']]},
 {b:[1480,329,119,28],it:[['D',PINK,343,1488,0,1513,'InjP BPM_d']]},
 {b:[1512,379,87,27],it:[['D',QGREEN,392,1521,0,1545,'QI4E_d']]},
 {b:[1453,427,146,63],tr:1,it:[['L',RED,440,1460,1499,1505,'SE1 middle'],['L',BLUE,458,1460,1499,1505,'D8 room'],['L',BLACK,476,1460,1499,1505,'SE1 R.cable']]},
 {b:[1553,481,46,26],it:[['D',BLUE,493,1560,0,1585,'X',2]]}
];

function el(cls,st){const d=document.createElement('div');d.className=cls;Object.assign(d.style,st);document.body.appendChild(d);return d;}

PANELS.forEach(mk);
el('sep',{left:'0px',width:'2px',background:'#a0a0a0'});
el('sep',{left:'800px',width:'3px',background:'#dcdcdc'});
for(const Lg of LEGENDS){
 const [l,t,w,h]=Lg.b;
 el('lg',{left:l+'px',top:t+'px',width:w+'px',height:h+'px',background:Lg.tr?'transparent':'#fff',boxShadow:Lg.tr?'none':'3px 3px 0 #555'});
 for(const [k,c,y,x0,x1,tx,txt,sty] of Lg.it){
  if(k==='L')el('lm',{left:x0+'px',top:(y-0.75)+'px',width:(x1-x0)+'px',height:'1.5px',background:c});
  if(k==='D')el('ld',{left:(x0-3)+'px',top:(y-3)+'px',width:'6px',height:'6px',borderRadius:'50%',background:c});
  const s=el('lt',{left:tx+'px',top:(y-(sty===1?14:8))+'px'});
  s.textContent=txt;
  if(sty===1){s.style.font='22px "DejaVu Sans",sans-serif';s.style.lineHeight='28px';}
  if(sty===2){s.style.fontWeight='bold';s.style.fontSize='14px';}
 }
}
</script>
</body></html>
